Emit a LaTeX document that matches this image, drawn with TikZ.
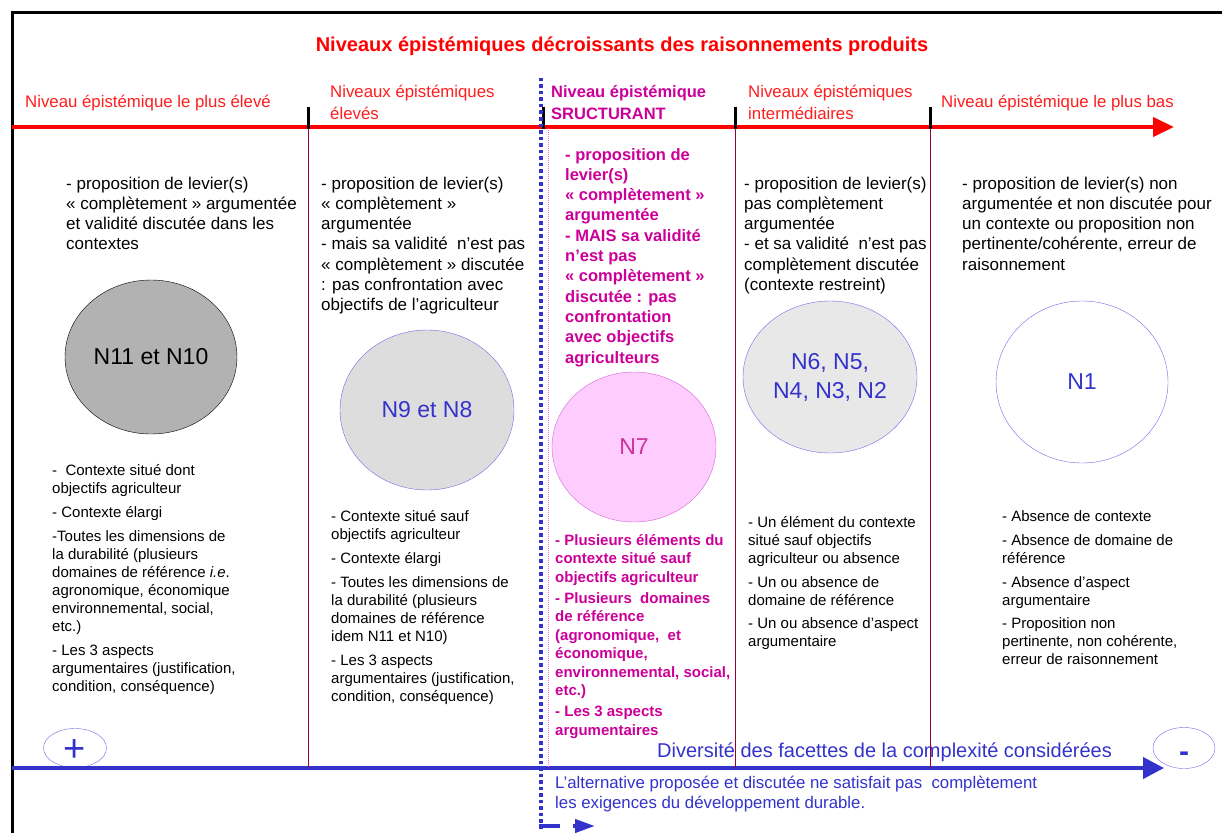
\documentclass[tikz,border=0pt]{standalone}
\usepackage{fontspec}
\setmainfont{Liberation Sans}
\usetikzlibrary{arrows.meta,shapes.geometric}
\definecolor{hdred}{RGB}{255,30,30}
\definecolor{mag}{RGB}{204,0,153}
\definecolor{nseven}{RGB}{204,51,153}
\definecolor{nblue}{RGB}{51,51,204}
\definecolor{eblue}{RGB}{110,110,235}
\definecolor{sepred}{RGB}{153,0,51}
\definecolor{pinkdot}{RGB}{255,102,204}
\definecolor{gdark}{RGB}{178,178,178}
\definecolor{glight}{RGB}{221,221,221}
\definecolor{glight2}{RGB}{232,232,232}
\definecolor{pinkfill}{RGB}{255,204,255}
\definecolor{pinkedge}{RGB}{214,102,214}
\newcommand{\toptab}[1]{\begin{tabular}[t]{@{}l@{}}#1\end{tabular}}
\begin{document}
\begin{tikzpicture}[x=1pt,y=-1pt,
  body/.style={anchor=base west, inner sep=0pt, font=\fontsize{17}{20.3}\selectfont},
  low/.style={anchor=base west, inner sep=0pt, font=\fontsize{15}{18}\selectfont},
  magtop/.style={anchor=base west, inner sep=0pt, text=mag, font=\bfseries\fontsize{16.5}{20.3}\selectfont},
  maglow/.style={anchor=base west, inner sep=0pt, text=mag, font=\bfseries\fontsize{15}{18.5}\selectfont},
  hdr/.style={anchor=base west, inner sep=0pt, text=hdred, font=\fontsize{16.8}{21}\selectfont},
  lvl/.style={ellipse, inner sep=0pt, align=center, font=\fontsize{23}{29}\selectfont},
  sep/.style={sepred, line width=0.8pt},
  tick/.style={line width=3pt, black},
  axis/.style={line width=4pt}
]
\useasboundingbox (0,0) rectangle (1222,832);
\clip (0,0) rectangle (1222,832);
\fill[white] (0,0) rectangle (1222,832);

% frame
\draw[line width=3pt] (12,845) -- (12,13) -- (1235,13);

% title
\node[anchor=base, inner sep=0pt, text=red, font=\bfseries\fontsize{20}{24}\selectfont] (title) at (622,52) {Niveaux épistémiques décroissants des raisonnements produits};

% headers
\node[hdr] (h1) at (25,107) {Niveau épistémique le plus élevé};
\node[hdr] (h2) at (330,98) {\toptab{Niveaux épistémiques\\élevés}};
\node[hdr, text=mag, font=\bfseries\fontsize{16.5}{21}\selectfont] (h3) at (551,98) {\toptab{Niveau épistémique\\SRUCTURANT}};
\node[hdr] (h4) at (748,98) {\toptab{Niveaux épistémiques\\intermédiaires}};
\node[hdr] (h5) at (941,107) {Niveau épistémique le plus bas};

% top texts
\node[body] (t1) at (66,189) {\toptab{- proposition de levier(s)\\« complètement » argumentée\\et validité discutée dans les\\contextes}};
\node[body] (t2) at (321,189) {\toptab{- proposition de levier(s)\\« complètement »\\argumentée\\- mais sa validité~ n’est pas\\« complètement » discutée\\: pas confrontation avec\\objectifs de l’agriculteur}};
\node[magtop] (t3) at (565,160) {\toptab{- proposition de\\levier(s)\\« complètement »\\argumentée\\- MAIS sa validité\\n’est pas\\« complètement »\\discutée : pas\\confrontation\\avec objectifs\\agriculteurs}};
\node[body] (t4) at (744,189) {\toptab{- proposition de levier(s)\\pas complètement\\argumentée\\- et sa validité~ n’est pas\\complètement discutée\\(contexte restreint)}};
\node[body] (t5) at (962,189) {\toptab{- proposition de levier(s) non\\argumentée et non discutée pour\\un contexte ou proposition non\\pertinente/cohérente, erreur de\\raisonnement}};

% level ellipses
\node[lvl, draw=black, fill=gdark, minimum width=172pt, minimum height=154pt] (e1) at (151,357) {N11 et N10};
\node[lvl, draw=eblue, fill=glight, text=nblue, minimum width=174pt, minimum height=160pt] (e2) at (427,410) {N9 et N8};
\node[lvl, draw=pinkedge, fill=pinkfill, text=nseven, minimum width=164pt, minimum height=150pt] (e3) at (634,447) {N7};
\node[lvl, draw=eblue, fill=glight2, text=nblue, minimum width=174pt, minimum height=152pt] (e4) at (830,377) {N6, N5,\\N4, N3, N2};
\node[lvl, draw=eblue, text=nblue, minimum width=172pt, minimum height=162pt] (e5) at (1082,382) {N1};

% lower texts
\node[low] (b1) at (52,475) {\toptab{-~ Contexte situé dont\\objectifs agriculteur\\[6pt]- Contexte élargi\\[6pt]-Toutes les dimensions de\\la durabilité (plusieurs\\domaines de référence \textit{i.e}.\\agronomique, économique\\environnemental, social,\\etc.)\\[6pt]- Les 3 aspects\\argumentaires (justification,\\condition, conséquence)}};
\node[low] (b2) at (331,521) {\toptab{- Contexte situé sauf\\objectifs agriculteur\\[6pt]- Contexte élargi\\[6pt]- Toutes les dimensions de\\la durabilité (plusieurs\\domaines de référence\\idem N11 et N10)\\[6pt]- Les 3 aspects\\argumentaires (justification,\\condition, conséquence)}};
\node[maglow] (b3) at (555,545) {\toptab{- Plusieurs éléments du\\contexte situé sauf\\objectifs agriculteur\\[2.5pt]- Plusieurs~ domaines\\de référence\\(agronomique,~ et\\économique,\\environnemental, social,\\etc.)\\[2.5pt]- Les 3 aspects\\argumentaires}};
\node[low] (b4) at (748,527) {\toptab{- Un élément du contexte\\situé sauf objectifs\\agriculteur ou absence\\[6pt]- Un ou absence de\\domaine de référence\\[5pt]- Un ou absence d’aspect\\argumentaire}};
\node[low] (b5) at (1002,521) {\toptab{- Absence de contexte\\[6pt]- Absence de domaine de\\référence\\[6pt]- Absence d’aspect\\argumentaire\\[5pt]- Proposition non\\pertinente, non cohérente,\\erreur de raisonnement}};

% bottom axis label and texts
\node[anchor=base west, inner sep=0pt, text=nblue, font=\fontsize{20}{24}\selectfont] (div) at (657,757) {Diversité des facettes de la complexité considérées};
\node[anchor=base west, inner sep=0pt, text=nblue, font=\fontsize{16.8}{20}\selectfont] (alt) at (555,788) {\toptab{L’alternative proposée et discutée ne satisfait pas~ complètement\\les exigences du développement durable.}};

% plus / minus ellipses
\node[ellipse, draw=eblue, minimum width=63pt, minimum height=39pt, inner sep=0pt, text=nblue, font=\fontsize{38}{38}\selectfont] (plus) at (75,748) {\smash{\raisebox{-13pt}{+}}};
\node[ellipse, draw=eblue, minimum width=62pt, minimum height=41pt, inner sep=0pt, text=nblue, font=\bfseries\fontsize{30}{30}\selectfont] (minus) at (1184,748) {\smash{\raisebox{-13pt}{-}}};

% axes
\coordinate (rs) at (12,127);
\coordinate (re) at (1174,127);
\draw[axis, red, -{Triangle[length=21pt,width=19pt]}] (rs) -- (re);
\coordinate (bs) at (12,768);
\coordinate (be) at (1164,768);
\draw[axis, nblue, -{Triangle[length=21pt,width=21pt]}] (bs) -- (be);

% column separators
\foreach \x/\n in {308/a,735/b,930/c}{
  \coordinate (s\n1) at (\x,128);
  \coordinate (s\n2) at (\x,768);
  \draw[sep] (s\n1) -- (s\n2);
}
\coordinate (pd1) at (548,128);
\coordinate (pd2) at (548,768);
\draw[pinkdot, line width=0.8pt, dash pattern=on 1pt off 1pt] (pd1) -- (pd2);

% ticks
\foreach \x/\n in {308/a,543/b,735/c,930/d}{
  \coordinate (k\n1) at (\x,107);
  \coordinate (k\n2) at (\x,129);
  \draw[tick] (k\n1) -- (k\n2);
}

% blue dotted structuring line
\coordinate (bd1) at (541,78);
\coordinate (bd2) at (541,829);
\draw[nblue, line width=4pt, dash pattern=on 3.5pt off 3pt] (bd1) -- (bd2);
\coordinate (ba1) at (539,826);
\coordinate (ba2) at (595,826);
\draw[nblue, line width=4pt, dash pattern=on 21pt off 13pt, -{Triangle[length=20pt,width=13pt]}] (ba1) -- (ba2);
\end{tikzpicture}
\end{document}
